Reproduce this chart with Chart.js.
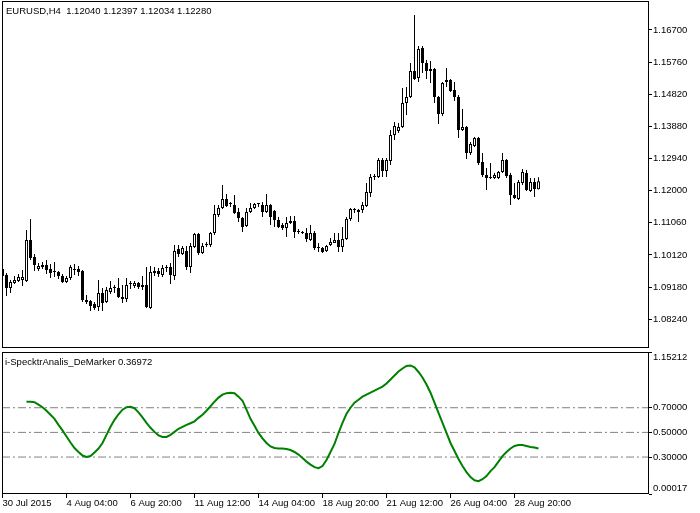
<!DOCTYPE html>
<html>
<head>
<meta charset="utf-8">
<script src="https://cdn.jsdelivr.net/npm/chart.js@4.4.0/dist/chart.umd.min.js"></script>
<style>
  html, body { margin: 0; padding: 0; background: #fff; }
  body { width: 700px; height: 513px; position: relative; overflow: hidden; }
  canvas { position: absolute; left: 0; }
  #priceChart { top: 0; }
  #indChart { top: 340px; }
  .label { position: absolute; font: 9.5px "Liberation Sans", Arial, sans-serif; color: #000; white-space: pre; line-height: 12px; }
</style>
</head>
<body>
<canvas id="priceChart" width="700" height="350"></canvas>
<canvas id="indChart" width="700" height="173"></canvas>
<div class="label" style="left:6px; top:5px;">EURUSD,H4  1.12040 1.12397 1.12034 1.12280</div>
<div class="label" style="left:5px; top:356px;">i-SpecktrAnalis_DeMarker 0.36972</div>
<script>
// EURUSD H4 candles, bar 0 = 30 Jul 2015
const opens = [
  1.09711, 1.09535, 1.09155, 1.09301, 1.09360, 1.09389, 1.09360, 1.10559, 1.10062, 1.09711,
  1.09769, 1.09828, 1.09711, 1.09623, 1.09623, 1.09506, 1.09330, 1.09447, 1.09681, 1.09711,
  1.09652, 1.08804, 1.08775, 1.08687, 1.08599, 1.09009, 1.08746, 1.09038, 1.09155, 1.09155,
  1.08892, 1.08833, 1.09272, 1.09214, 1.09301, 1.09243, 1.09243, 1.08570, 1.09594, 1.09652,
  1.09535, 1.09740, 1.09769, 1.09506, 1.10296, 1.10149, 1.10237, 1.09769, 1.10354, 1.10734,
  1.10179, 1.10413, 1.10413, 1.10763, 1.11290, 1.11494, 1.11758, 1.11611, 1.11582, 1.11377,
  1.11202, 1.10968, 1.11377, 1.11494, 1.11611, 1.11582, 1.11377, 1.11582, 1.11407, 1.11143,
  1.10997, 1.10910, 1.11056, 1.11114, 1.10793, 1.10763, 1.10763, 1.10559, 1.10763, 1.10325,
  1.10325, 1.10237, 1.10413, 1.10471, 1.10559, 1.10354, 1.10588, 1.11173, 1.11436, 1.11377,
  1.11436, 1.11553, 1.11933, 1.12401, 1.12401, 1.12898, 1.12576, 1.12869, 1.13629, 1.13746,
  1.13863, 1.14565, 1.14740, 1.15501, 1.15296, 1.16173, 1.15735, 1.15559, 1.15559, 1.14740,
  1.14243, 1.15179, 1.15238, 1.14945, 1.14740, 1.13775, 1.13863, 1.13103, 1.13308, 1.13542,
  1.12840, 1.12460, 1.12372, 1.12372, 1.12372, 1.12547, 1.12898, 1.12460, 1.11875, 1.11758,
  1.12226, 1.12518, 1.11992, 1.12255, 1.12040
];
const highs = [
  1.09740, 1.09594, 1.09389, 1.09506, 1.09564, 1.09681, 1.10851, 1.11173, 1.10149, 1.09886,
  1.09915, 1.09974, 1.09857, 1.09915, 1.09652, 1.09564, 1.09506, 1.09828, 1.09857, 1.09798,
  1.09681, 1.08950, 1.08804, 1.08746, 1.09389, 1.09155, 1.09184, 1.09360, 1.09243, 1.09447,
  1.09243, 1.09447, 1.09360, 1.09360, 1.09330, 1.09506, 1.09769, 1.09798, 1.09769, 1.09740,
  1.09828, 1.09828, 1.09886, 1.10413, 1.10413, 1.10383, 1.10383, 1.10471, 1.10763, 1.10763,
  1.10471, 1.10500, 1.10793, 1.11582, 1.11582, 1.12167, 1.11904, 1.11670, 1.11875, 1.11494,
  1.11231, 1.11494, 1.11641, 1.11641, 1.11641, 1.11670, 1.11904, 1.11611, 1.11436, 1.11231,
  1.11056, 1.11231, 1.11260, 1.11260, 1.10880, 1.10822, 1.10910, 1.10997, 1.10822, 1.10471,
  1.10354, 1.10413, 1.10617, 1.10763, 1.10763, 1.10939, 1.11231, 1.11494, 1.11494, 1.11465,
  1.11670, 1.12226, 1.12489, 1.12489, 1.12957, 1.12957, 1.12957, 1.13775, 1.14009, 1.13980,
  1.15004, 1.15033, 1.15735, 1.17138, 1.16232, 1.16232, 1.15822, 1.15793, 1.15589, 1.14769,
  1.15179, 1.15589, 1.15267, 1.15179, 1.14799, 1.14390, 1.13892, 1.13424, 1.13571, 1.13571,
  1.13103, 1.12664, 1.12810, 1.12518, 1.12576, 1.13103, 1.12927, 1.12518, 1.12226, 1.12313,
  1.12635, 1.12606, 1.12372, 1.12372, 1.12397
];
const lows = [
  1.09477, 1.08921, 1.09009, 1.09272, 1.09330, 1.09214, 1.09330, 1.09974, 1.09652, 1.09652,
  1.09711, 1.09564, 1.09447, 1.09477, 1.09418, 1.09301, 1.09301, 1.09389, 1.09535, 1.09506,
  1.08746, 1.08687, 1.08482, 1.08512, 1.08482, 1.08482, 1.08716, 1.08980, 1.09009, 1.08863,
  1.08716, 1.08746, 1.09126, 1.09155, 1.09126, 1.09097, 1.08570, 1.08541, 1.09506, 1.09477,
  1.09477, 1.09623, 1.09272, 1.09389, 1.10062, 1.10120, 1.09681, 1.09594, 1.10325, 1.10120,
  1.10149, 1.10354, 1.10354, 1.10705, 1.11231, 1.11465, 1.11524, 1.11524, 1.11319, 1.11085,
  1.10793, 1.10939, 1.11348, 1.11465, 1.11524, 1.11231, 1.11348, 1.10997, 1.10939, 1.10910,
  1.10851, 1.10646, 1.11027, 1.10617, 1.10734, 1.10734, 1.10500, 1.10529, 1.10266, 1.10208,
  1.10179, 1.10208, 1.10383, 1.10471, 1.10208, 1.10208, 1.10559, 1.11114, 1.11348, 1.11085,
  1.11348, 1.11524, 1.11816, 1.12313, 1.12372, 1.12401, 1.12401, 1.12752, 1.13483, 1.13688,
  1.13834, 1.14214, 1.14711, 1.15238, 1.15179, 1.15442, 1.15267, 1.15150, 1.14565, 1.13951,
  1.14185, 1.15033, 1.14887, 1.14624, 1.13542, 1.13746, 1.12927, 1.13045, 1.13278, 1.12752,
  1.12401, 1.12021, 1.12342, 1.12342, 1.12342, 1.12518, 1.12372, 1.11582, 1.11758, 1.11728,
  1.12167, 1.11992, 1.11962, 1.11816, 1.12034
];
const closes = [
  1.09506, 1.09155, 1.09330, 1.09389, 1.09477, 1.09477, 1.10559, 1.10032, 1.09828, 1.09798,
  1.09828, 1.09681, 1.09594, 1.09620, 1.09506, 1.09330, 1.09447, 1.09769, 1.09711, 1.09623,
  1.08804, 1.08746, 1.08629, 1.08570, 1.09009, 1.08716, 1.09097, 1.09155, 1.09184, 1.08892,
  1.08833, 1.09243, 1.09270, 1.09301, 1.09184, 1.09184, 1.08599, 1.09623, 1.09652, 1.09564,
  1.09740, 1.09769, 1.09535, 1.10237, 1.10149, 1.10325, 1.09769, 1.10383, 1.10734, 1.10179,
  1.10383, 1.10410, 1.10763, 1.11319, 1.11494, 1.11758, 1.11553, 1.11608, 1.11348, 1.11202,
  1.10939, 1.11377, 1.11494, 1.11611, 1.11608, 1.11377, 1.11582, 1.11231, 1.11143, 1.10939,
  1.10910, 1.11056, 1.11114, 1.10793, 1.10790, 1.10760, 1.10588, 1.10763, 1.10325, 1.10322,
  1.10208, 1.10383, 1.10500, 1.10559, 1.10354, 1.10588, 1.11173, 1.11465, 1.11433, 1.11436,
  1.11582, 1.11962, 1.12401, 1.12398, 1.12898, 1.12576, 1.12898, 1.13629, 1.13892, 1.13863,
  1.14565, 1.14740, 1.15501, 1.15267, 1.16144, 1.15735, 1.15501, 1.15501, 1.14740, 1.14243,
  1.15150, 1.15238, 1.14916, 1.14740, 1.13775, 1.13863, 1.13103, 1.13366, 1.13542, 1.12810,
  1.12460, 1.12372, 1.12369, 1.12460, 1.12547, 1.12898, 1.12430, 1.11875, 1.11787, 1.12255,
  1.12547, 1.12021, 1.12255, 1.12050, 1.12280
];

// time axis: a label every 16 bars
const timeTickBars = [0, 16, 32, 48, 64, 80, 96, 112, 128];
const timeLabels = ['30 Jul 2015', '4 Aug 04:00', '6 Aug 20:00', '11 Aug 12:00', '14 Aug 04:00',
  '18 Aug 20:00', '21 Aug 12:00', '26 Aug 04:00', '28 Aug 20:00'];
const priceTicks = [1.08240, 1.09180, 1.10120, 1.11060, 1.12000, 1.12940, 1.13880, 1.14820, 1.15760, 1.16700];

// i-SpecktrAnalis_DeMarker, first value on bar 6
const demarkerFirstBar = 6;
const demarker = [
  0.749, 0.749, 0.745, 0.725, 0.704, 0.676, 0.643, 0.610, 0.561, 0.516,
  0.467, 0.418, 0.373, 0.341, 0.312, 0.300, 0.308, 0.337, 0.369, 0.414,
  0.480, 0.545, 0.602, 0.647, 0.684, 0.704, 0.708, 0.696, 0.663, 0.622,
  0.578, 0.537, 0.504, 0.476, 0.463, 0.463, 0.480, 0.504, 0.529, 0.545,
  0.561, 0.574, 0.590, 0.618, 0.643, 0.676, 0.712, 0.749, 0.782, 0.806,
  0.818, 0.822, 0.818, 0.790, 0.757, 0.684, 0.610, 0.553, 0.496, 0.451,
  0.414, 0.386, 0.373, 0.369, 0.369, 0.365, 0.357, 0.341, 0.320, 0.292,
  0.263, 0.239, 0.218, 0.210, 0.227, 0.276, 0.341, 0.406, 0.496, 0.578,
  0.651, 0.700, 0.741, 0.765, 0.790, 0.806, 0.822, 0.839, 0.855, 0.871,
  0.896, 0.929, 0.961, 0.994, 1.018, 1.039, 1.043, 1.027, 0.990, 0.945,
  0.888, 0.822, 0.741, 0.659, 0.578, 0.496, 0.414, 0.349, 0.284, 0.227,
  0.178, 0.137, 0.112, 0.104, 0.120, 0.145, 0.186, 0.218, 0.263, 0.308,
  0.341, 0.369, 0.390, 0.398, 0.398, 0.390, 0.382, 0.378, 0.36972
];
const levels = [0.7, 0.5, 0.3];
const indicatorMin = 0.00017;
const indicatorMax = 1.15212;
const indicatorTicks = [indicatorMin, 0.30000, 0.50000, 0.70000, indicatorMax];

// 4 px per bar, chart shifted so empty space is left on the right
const X_MIN = -0.125, X_MAX = 161.625;
const FONT = { family: '"Liberation Sans", Arial, sans-serif', size: 9.5 };

// black frame round each pane, like the terminal draws it
const framePlugin = {
  id: 'frame',
  afterDraw(chart) {
    const { ctx, chartArea: a } = chart;
    ctx.save();
    ctx.strokeStyle = '#000';
    ctx.lineWidth = 1;
    ctx.strokeRect(a.left + 0.5, a.top + 0.5, a.right - a.left - 1, a.bottom - a.top - 1);
    ctx.restore();
  }
};

function rightAxis(min, max, tickValues, labelFn) {
  return {
    type: 'linear', position: 'right', min: min, max: max,
    afterBuildTicks: s => { s.ticks = tickValues.map(v => ({ value: v })); },
    afterFit: s => { s.width = 51; s.paddingTop = 0; s.paddingBottom = 0; },
    ticks: { callback: labelFn || (v => v.toFixed(5)), color: '#000', font: FONT, padding: 1 },
    grid: { drawOnChartArea: false, drawTicks: true, tickLength: 3, color: '#000' },
    border: { display: false }
  };
}

// min/max labels of the sub window sit just inside the pane
function indicatorLabel(v) {
  const s = v.toFixed(5);
  if (v === indicatorMax) return ['', s];
  if (v === indicatorMin) return [s, ''];
  return s;
}

const barIdx = opens.map((_, i) => i);

new Chart(document.getElementById('priceChart'), {
  type: 'bar',
  data: {
    datasets: [
      {
        label: 'body',
        data: barIdx.map(i => ({ x: i, y: [opens[i], closes[i]] })),
        backgroundColor: c => closes[c.dataIndex] >= opens[c.dataIndex] ? '#fff' : '#000',
        borderColor: '#000',
        borderWidth: 1,
        borderSkipped: false,
        barThickness: 3,
        minBarLength: 1,
        grouped: false,
        inflateAmount: 0,
        order: 1
      },
      {
        label: 'wick',
        data: barIdx.map(i => ({ x: i, y: [lows[i], highs[i]] })),
        backgroundColor: '#000',
        borderWidth: 0,
        barThickness: 1,
        grouped: false,
        inflateAmount: 0,
        order: 2
      }
    ]
  },
  options: {
    responsive: false,
    animation: false,
    events: [],
    layout: { padding: { left: 2, top: 1, right: 0, bottom: 2 }, autoPadding: false },
    plugins: { legend: { display: false }, tooltip: { enabled: false } },
    scales: {
      x: { type: 'linear', min: X_MIN, max: X_MAX, offset: false, display: false, grid: { offset: false } },
      y: rightAxis(1.07400, 1.17548, priceTicks)
    }
  },
  plugins: [framePlugin]
});

new Chart(document.getElementById('indChart'), {
  type: 'line',
  data: {
    datasets: [
      {
        label: 'DeMarker',
        data: demarker.map((v, i) => ({ x: demarkerFirstBar + i, y: v })),
        borderColor: '#008000',
        borderWidth: 2,
        pointRadius: 0,
        tension: 0,
        order: 1
      },
      ...levels.map(l => ({
        label: 'level ' + l,
        data: [{ x: X_MIN, y: l }, { x: X_MAX, y: l }],
        borderColor: '#808080',
        borderWidth: 1,
        borderDash: [8, 3, 2, 3],
        pointRadius: 0,
        order: 2
      }))
    ]
  },
  options: {
    responsive: false,
    animation: false,
    events: [],
    layout: { padding: { left: 2, top: 12, right: 0, bottom: 0 }, autoPadding: false },
    plugins: { legend: { display: false }, tooltip: { enabled: false } },
    scales: {
      x: {
        type: 'linear', position: 'bottom', min: X_MIN, max: X_MAX,
        afterBuildTicks: s => { s.ticks = timeTickBars.map(v => ({ value: v })); },
        afterFit: s => { s.height = 19; s.paddingLeft = 0; s.paddingRight = 0; },
        ticks: { callback: (v, i) => timeLabels[i], autoSkip: false, maxRotation: 0, align: 'start', color: '#000', font: FONT, padding: 0 },
        grid: { drawOnChartArea: false, drawTicks: true, tickLength: 4, color: '#000' },
        border: { display: false }
      },
      y: rightAxis(indicatorMin, indicatorMax, indicatorTicks, indicatorLabel)
    }
  },
  plugins: [framePlugin]
});
</script>
</body>
</html>
